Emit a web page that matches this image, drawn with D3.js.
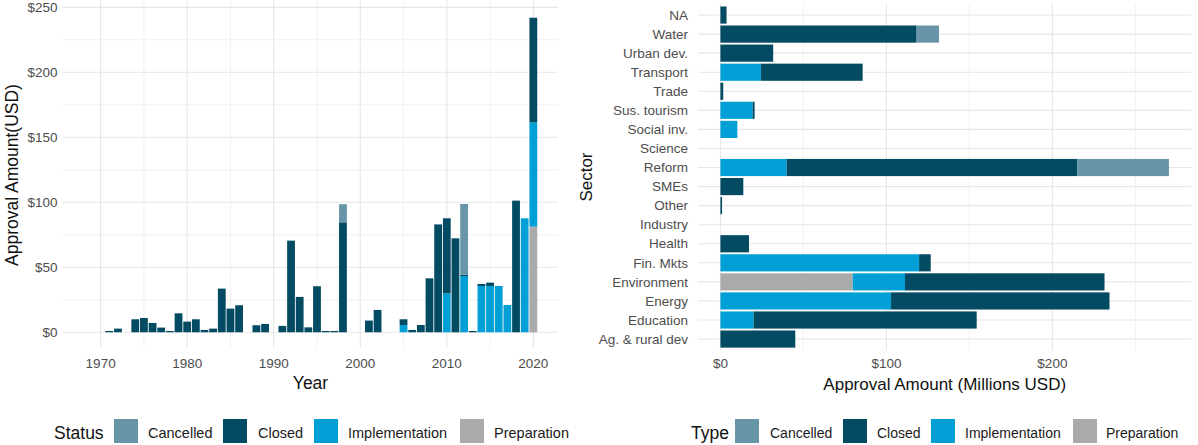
<!DOCTYPE html>
<html>
<head>
<meta charset="utf-8">
<script src="https://cdn.jsdelivr.net/npm/d3@7"></script>
<style>
  html, body { margin: 0; padding: 0; background: #ffffff; }
  svg { display: block; font-family: "Liberation Sans", Arial, sans-serif; }
</style>
</head>
<body>
<svg id="chart" width="1198" height="445"></svg>
<script>
// ---------------- DATA ----------------
const statusKeys = ["Cancelled", "Closed", "Implementation", "Preparation"];

// Left chart: approval amount by year (USD millions), by status
const years = [1971,1972,1974,1975,1976,1977,1978,1979,1980,1981,1982,1983,1984,1985,1986,
  1988,1989,1991,1992,1993,1994,1995,1996,1997,1998,2001,2002,2005,2006,2007,2008,2009,
  2010,2011,2012,2013,2014,2015,2016,2017,2018,2019,2020];
const yearCancelled = [0,0,0,0,0,0,0,0,0,0,0,0,0,0,0,
  0,0,0,0,0,0,0,0,0,13.9,0,0,0,0,0,0,0,
  0,0,54.4,0,0,0,0,0,0,0,0];
const yearClosed = [1,2.8,10,11,7.2,3.6,1,14.6,8.2,10,1.8,2.8,33.6,18.2,20.8,
  5.4,6.4,4.9,70.5,27.2,3.8,35.4,1,1,84.6,9,17.2,4.4,1.8,5.6,41.5,83,
  57.7,72.3,1,1,1.6,2.6,0,0,101.3,0,80.5];
const yearImplementation = [0,0,0,0,0,0,0,0,0,0,0,0,0,0,0,
  0,0,0,0,0,0,0,0,0,0,0,0,5.6,0,0,0,0,
  30,0,43.3,0,35.6,35.6,35.6,21,0,87.7,80.2];
const yearPreparation = [0,0,0,0,0,0,0,0,0,0,0,0,0,0,0,
  0,0,0,0,0,0,0,0,0,0,0,0,0,0,0,0,0,
  0,0,0,0,0,0,0,0,0,0,81.3];
const yearTicks = [1970, 1980, 1990, 2000, 2010, 2020];
const amountTicks = [0, 50, 100, 150, 200, 250];

// Right chart: approval amount by sector (Millions USD), by type
const sectors = ["NA","Water","Urban dev.","Transport","Trade","Sus. tourism","Social inv.","Science",
  "Reform","SMEs","Other","Industry","Health","Fin. Mkts","Environment","Energy","Education","Ag. & rural dev"];
const sectorCancelled = [0,13.5,0,0,0,0,0,0,55.3,0,0,0,0,0,0,0,0,0];
const sectorClosed = [3.7,118.2,31.8,61.3,1.7,1.2,0,0,175,13.8,1,0,17.2,7,120.2,131.6,134.4,45.1];
const sectorImplementation = [0,0,0,24.4,0,19.4,10.2,0,39.9,0,0,0,0,119.7,31.5,102.8,20,0];
const sectorPreparation = [0,0,0,0,0,0,0,0,0,0,0,0,0,0,79.7,0,0,0];
const sectorTicks = [0, 100, 200];

// ---------------- STYLE ----------------
const colors = { Cancelled: "#6995a9", Closed: "#024b62", Implementation: "#00a0d6", Preparation: "#aaaaaa" };
const gridMajor = "#e6e6e6", gridMinor = "#eeeeee";
const tickColor = "#4d4d4d";

const svg = d3.select("#chart");
const stackOrder = ["Preparation", "Implementation", "Closed", "Cancelled"];

// ================= LEFT CHART =================
const yearRows = years.map((yr, i) => ({
  year: yr, Cancelled: yearCancelled[i], Closed: yearClosed[i],
  Implementation: yearImplementation[i], Preparation: yearPreparation[i]
}));
const L = { left: 63, right: 558, top: 2, bottom: 348 };
const xL = d3.scaleLinear().domain([1965.65, 2022.85]).range([L.left, L.right]);
const yL = d3.scaleLinear().domain([-12.1, 254.1]).range([L.bottom, L.top]);

const gL = svg.append("g");
// minor grid
gL.append("g").selectAll("line").data(d3.range(1975, 2021, 10)).join("line")
  .attr("x1", d => xL(d)).attr("x2", d => xL(d)).attr("y1", L.top - 2).attr("y2", L.bottom)
  .attr("stroke", gridMinor).attr("stroke-width", 0.8);
gL.append("g").selectAll("line").data(d3.range(25, 250, 50)).join("line")
  .attr("x1", L.left).attr("x2", L.right).attr("y1", d => yL(d)).attr("y2", d => yL(d))
  .attr("stroke", gridMinor).attr("stroke-width", 0.8);
// major grid
gL.append("g").selectAll("line").data(yearTicks).join("line")
  .attr("x1", d => xL(d)).attr("x2", d => xL(d)).attr("y1", L.top - 2).attr("y2", L.bottom)
  .attr("stroke", gridMajor).attr("stroke-width", 1.1);
gL.append("g").selectAll("line").data(amountTicks).join("line")
  .attr("x1", L.left).attr("x2", L.right).attr("y1", d => yL(d)).attr("y2", d => yL(d))
  .attr("stroke", gridMajor).attr("stroke-width", 1.1);

const stackL = d3.stack().keys(stackOrder)(yearRows);
const barW = xL(1970.9) - xL(1970);
gL.append("g").selectAll("g").data(stackL).join("g")
  .attr("fill", s => colors[s.key])
  .selectAll("rect").data(s => s.filter(d => d[1] - d[0] > 0)).join("rect")
  .attr("x", d => xL(d.data.year) - barW / 2)
  .attr("width", barW)
  .attr("y", d => yL(d[1]))
  .attr("height", d => yL(d[0]) - yL(d[1]));

// axes text
gL.append("g").selectAll("text").data(amountTicks).join("text")
  .attr("x", 57.5).attr("y", d => yL(d)).attr("dy", "0.35em")
  .attr("text-anchor", "end").attr("font-size", 13.5).attr("fill", tickColor)
  .text(d => "$" + d);
gL.append("g").selectAll("text").data(yearTicks).join("text")
  .attr("x", d => xL(d)).attr("y", 368)
  .attr("text-anchor", "middle").attr("font-size", 13.5).attr("fill", tickColor)
  .text(d => d);
gL.append("text").attr("x", (L.left + L.right) / 2).attr("y", 389)
  .attr("text-anchor", "middle").attr("font-size", 17.5).attr("fill", "#111")
  .text("Year");
gL.append("text").attr("transform", `translate(18,${(L.top + L.bottom) / 2}) rotate(-90)`)
  .attr("text-anchor", "middle").attr("font-size", 17.5).attr("fill", "#111")
  .text("Approval Amount(USD)");

// ================= RIGHT CHART =================
const sectorRows = sectors.map((s, i) => ({
  sector: s, Cancelled: sectorCancelled[i], Closed: sectorClosed[i],
  Implementation: sectorImplementation[i], Preparation: sectorPreparation[i]
}));
const R = { left: 698, right: 1191.5, top: 3.6, bottom: 350.5 };
const xR = d3.scaleLinear().domain([-13.5, 283.8]).range([R.left, R.right]);
const yR = d3.scaleBand().domain(sectors).range([R.top, R.bottom]).paddingInner(0.1).paddingOuter(0.15);

const gR = svg.append("g");
gR.append("g").selectAll("line").data([50, 150, 250]).join("line")
  .attr("x1", d => xR(d)).attr("x2", d => xR(d)).attr("y1", R.top).attr("y2", R.bottom)
  .attr("stroke", gridMinor).attr("stroke-width", 0.8);
gR.append("g").selectAll("line").data(sectorTicks).join("line")
  .attr("x1", d => xR(d)).attr("x2", d => xR(d)).attr("y1", R.top).attr("y2", R.bottom)
  .attr("stroke", gridMajor).attr("stroke-width", 1.1);
gR.append("g").selectAll("line").data(sectors).join("line")
  .attr("x1", R.left).attr("x2", R.right)
  .attr("y1", d => yR(d) + yR.bandwidth() / 2).attr("y2", d => yR(d) + yR.bandwidth() / 2)
  .attr("stroke", gridMajor).attr("stroke-width", 1.1);

const stackR = d3.stack().keys(stackOrder)(sectorRows);
gR.append("g").selectAll("g").data(stackR).join("g")
  .attr("fill", s => colors[s.key])
  .selectAll("rect").data(s => s.filter(d => d[1] - d[0] > 0)).join("rect")
  .attr("y", d => yR(d.data.sector))
  .attr("height", yR.bandwidth())
  .attr("x", d => xR(d[0]))
  .attr("width", d => xR(d[1]) - xR(d[0]));

gR.append("g").selectAll("text").data(sectors).join("text")
  .attr("x", 688).attr("y", d => yR(d) + yR.bandwidth() / 2).attr("dy", "0.35em")
  .attr("text-anchor", "end").attr("font-size", 13.5).attr("fill", tickColor)
  .text(d => d);
gR.append("g").selectAll("text").data(sectorTicks).join("text")
  .attr("x", d => xR(d)).attr("y", 368)
  .attr("text-anchor", "middle").attr("font-size", 13.5).attr("fill", tickColor)
  .text(d => "$" + d);
gR.append("text").attr("x", (R.left + R.right) / 2).attr("y", 390)
  .attr("text-anchor", "middle").attr("font-size", 17).attr("fill", "#111")
  .text("Approval Amount (Millions USD)");
gR.append("text").attr("transform", `translate(592,${(R.top + R.bottom) / 2}) rotate(-90)`)
  .attr("text-anchor", "middle").attr("font-size", 17).attr("fill", "#111")
  .text("Sector");

// ================= LEGENDS =================
function legend(title, titleX, keyXs, labelXs, fontSize) {
  const g = svg.append("g");
  g.append("text").attr("x", titleX).attr("y", 439).attr("font-size", 17.5).attr("fill", "#111").text(title);
  statusKeys.forEach((k, i) => {
    g.append("rect").attr("x", keyXs[i]).attr("y", 419).attr("width", 24).attr("height", 24).attr("fill", colors[k]);
    g.append("text").attr("x", labelXs[i]).attr("y", 438).attr("font-size", fontSize).attr("fill", "#1a1a1a").text(k);
  });
}
legend("Status", 54, [114, 223, 314, 460], [148, 258, 348, 494], 14.5);
legend("Type", 691, [735, 843, 931, 1073], [770, 877, 965, 1106], 14);
</script>
</body>
</html>
